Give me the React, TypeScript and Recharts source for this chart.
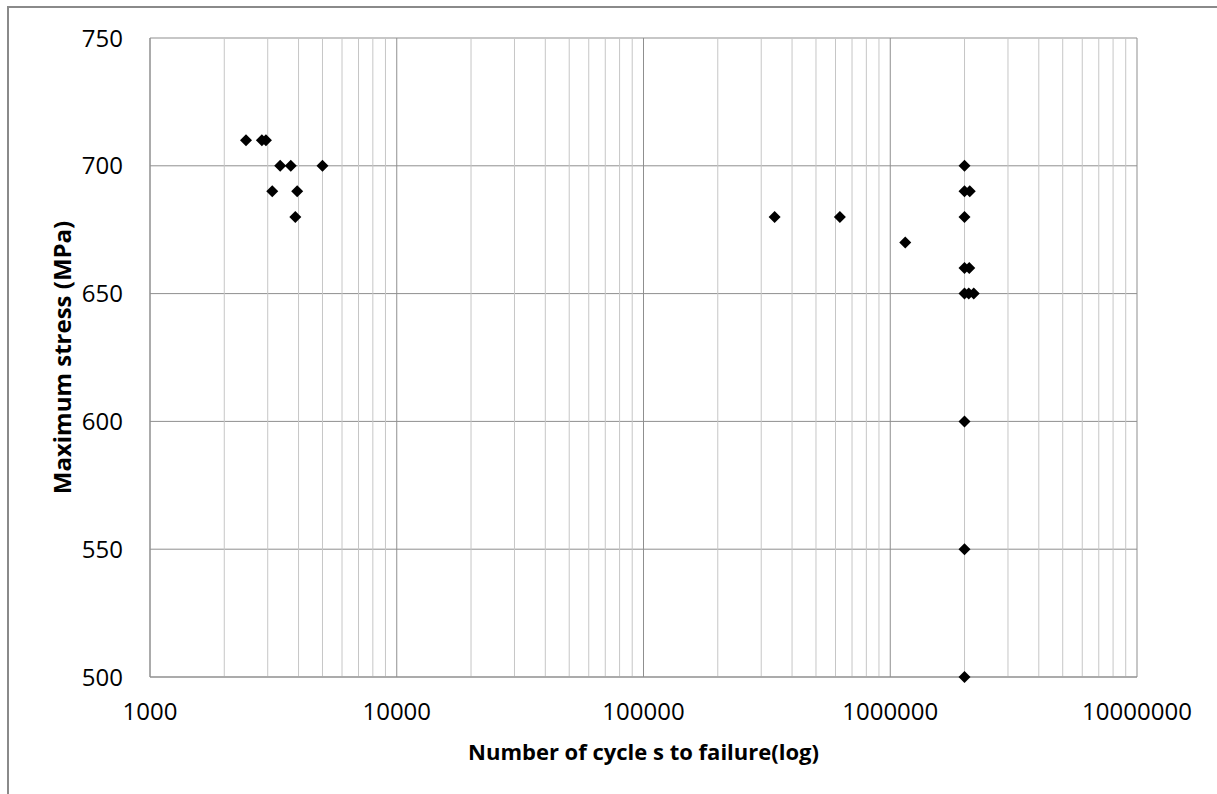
import { ScatterChart, Scatter, XAxis, YAxis, CartesianGrid, ReferenceLine } from 'recharts'

// fatigue test results: cycles to failure vs max stress
const cycles = [
  2450, 2840, 2950, 3370, 3720, 5000, 3130, 3950, 3880,
  340000, 625000, 1150000,
  2000000, 2000000, 2100000, 2000000, 2000000, 2090000,
  2000000, 2080000, 2180000, 2000000, 2000000, 2000000,
]
const stress = [
  710, 710, 710, 700, 700, 700, 690, 690, 680,
  680, 680, 670,
  700, 690, 690, 680, 660, 660,
  650, 650, 650, 600, 550, 500,
]

const xTicks = [1000, 10000, 100000, 1000000, 10000000]
const yTicks = [500, 550, 600, 650, 700, 750]
const minorMultipliers = [2, 3, 4, 5, 6, 7, 8, 9]
const minorTicks = xTicks.slice(0, -1).flatMap((d) => minorMultipliers.map((m) => m * d))

const points = cycles.map((n, i) => ({ n, s: stress[i] }))

const font = '"Open Sans", sans-serif'
const major = '#8f8f8f'
const minor = '#c6c6c6'

function Diamond(props: any) {
  const { cx, cy } = props
  const r = 6
  return <polygon points={`${cx},${cy - r} ${cx + r},${cy} ${cx},${cy + r} ${cx - r},${cy}`} fill="#000" />
}

export default function App() {
  return (
    <div style={{ position: 'absolute', left: 0, top: 0, width: 1217, height: 794, overflow: 'hidden', background: '#fff' }}>
      <div style={{ position: 'absolute', left: 7, top: 6, width: 1230, height: 820, border: '2px solid #8a8a8a' }} />
      <div style={{ position: 'absolute', left: 0, top: 0 }}>
        <ScatterChart width={1217} height={794} margin={{ top: 38, right: 80, bottom: 27, left: 20 }}>
          <CartesianGrid stroke={major} strokeWidth={1} />
          {minorTicks.map((v) => (
            <ReferenceLine key={v} x={v} stroke={minor} strokeWidth={1} ifOverflow="hidden" />
          ))}
          <XAxis
            type="number"
            dataKey="n"
            scale="log"
            domain={[1000, 10000000]}
            ticks={xTicks}
            allowDataOverflow
            axisLine={{ stroke: major }}
            tickLine={false}
            tickMargin={20}
            height={90}
            tick={{ fill: '#000', fontSize: 24, fontFamily: font }}
            label={{
              value: 'Number of cycle s to failure(log)',
              position: 'insideBottom',
              offset: 7,
              style: { fill: '#000', fontSize: 22, fontWeight: 700, fontFamily: font },
            }}
          />
          <YAxis
            type="number"
            dataKey="s"
            domain={[500, 750]}
            ticks={yTicks}
            axisLine={{ stroke: major }}
            tickLine={false}
            tickMargin={21}
            width={130}
            tick={{ fill: '#000', fontSize: 24, fontFamily: font }}
            label={{
              value: 'Maximum stress (MPa)',
              angle: -90,
              position: 'insideLeft',
              offset: 42,
              style: { textAnchor: 'middle', fill: '#000', fontSize: 24, fontWeight: 700, fontFamily: font },
            }}
          />
          <Scatter data={points} shape={<Diamond />} isAnimationActive={false} />
        </ScatterChart>
      </div>
    </div>
  )
}
